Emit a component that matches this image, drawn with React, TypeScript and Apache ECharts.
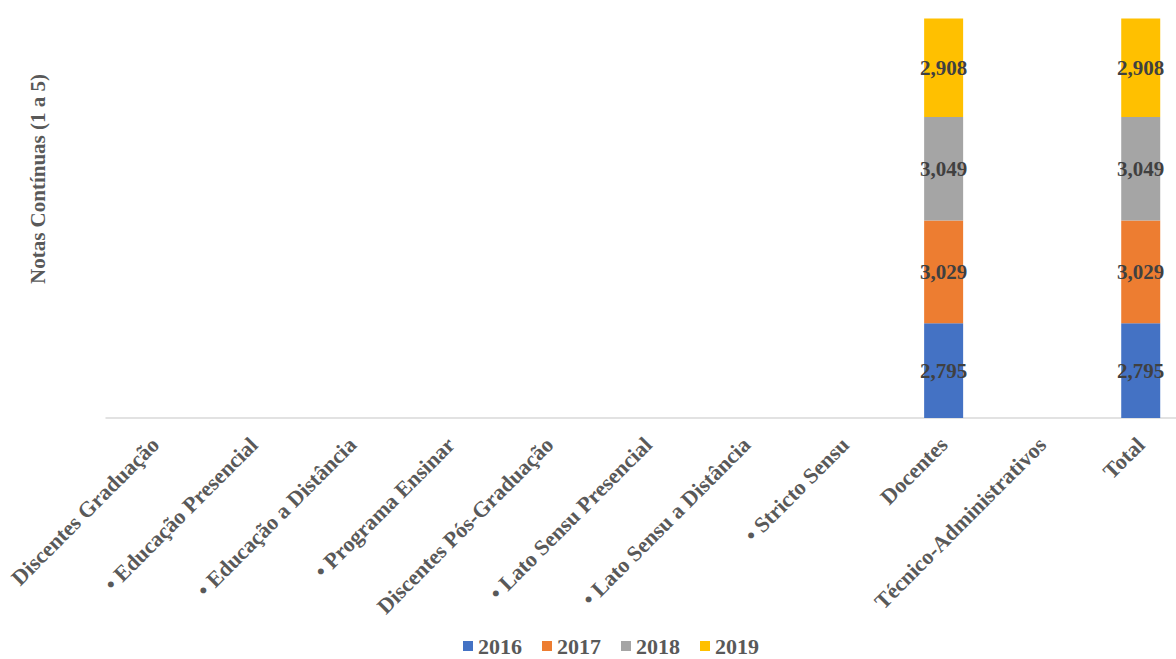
import React, { useEffect, useRef } from "react";
import * as echarts from "echarts";

const categories = [
  "Discentes Graduação",
  "• Educação Presencial",
  "• Educação a Distância",
  "• Programa Ensinar",
  "Discentes Pós-Graduação",
  "• Lato Sensu Presencial",
  "• Lato Sensu a Distância",
  "• Stricto Sensu",
  "Docentes",
  "Técnico-Administrativos",
  "Total",
];

const years = ["2016", "2017", "2018", "2019"];

const values2016 = [null, null, null, null, null, null, null, null, 2.795, null, 2.795];
const values2017 = [null, null, null, null, null, null, null, null, 3.029, null, 3.029];
const values2018 = [null, null, null, null, null, null, null, null, 3.049, null, 3.049];
const values2019 = [null, null, null, null, null, null, null, null, 2.908, null, 2.908];

const colors = ["#4472C4", "#ED7D31", "#A5A5A5", "#FFC000"];

const FONT = "'Liberation Serif', 'Times New Roman', serif";

export default function App() {
  const ref = useRef<HTMLDivElement>(null);

  useEffect(() => {
    if (!ref.current) return;
    const chart = echarts.init(ref.current, null, { renderer: "svg" });
    const seriesData = [values2016, values2017, values2018, values2019];
    chart.setOption({
      animation: false,
      backgroundColor: "#ffffff",
      color: colors,
      textStyle: { fontFamily: FONT },
      grid: { left: 106, right: 0, top: 11, bottom: 241, containLabel: false },
      legend: {
        data: years,
        left: 463,
        top: 635,
        padding: 0,
        itemWidth: 10,
        itemHeight: 10,
        itemGap: 20,
        icon: "rect",
        textStyle: {
          fontFamily: FONT,
          fontSize: 22,
          lineHeight: 18,
          fontWeight: "bold",
          color: "#595959",
        },
      },
      xAxis: {
        type: "category",
        data: categories,
        axisLine: { show: true, lineStyle: { color: "#D9D9D9", width: 1.5 } },
        axisTick: { show: false },
        axisLabel: {
          rotate: 45,
          interval: 0,
          margin: 23,
          fontFamily: FONT,
          fontSize: 22,
          fontWeight: "bold",
          color: "#595959",
        },
      },
      yAxis: {
        type: "value",
        min: 0,
        max: 12,
        axisLine: { show: false },
        axisTick: { show: false },
        axisLabel: { show: false },
        splitLine: { show: false },
      },
      graphic: [
        {
          type: "text",
          x: 38,
          y: 179,
          rotation: Math.PI / 2,
          style: {
            text: "Notas Contínuas (1 a 5)",
            font: `bold 21px ${FONT}`,
            fill: "#595959",
            textAlign: "center",
            textVerticalAlign: "middle",
          },
        },
      ],
      series: years.map((y, i) => ({
        name: y,
        type: "bar",
        stack: "total",
        barWidth: 39,
        data: seriesData[i],
        itemStyle: { color: colors[i] },
        label: {
          show: true,
          position: "inside",
          fontFamily: FONT,
          fontSize: 21,
          fontWeight: "bold",
          color: "#404040",
          formatter: (p: any) =>
            p.value == null ? "" : Number(p.value).toFixed(3).replace(".", ","),
        },
      })),
    });
    return () => chart.dispose();
  }, []);

  return (
    <div
      style={{
        position: "absolute",
        left: 0,
        top: 0,
        width: 1176,
        height: 659,
        overflow: "hidden",
        background: "#ffffff",
      }}
    >
      <div ref={ref} style={{ width: 1190, height: 659 }} />
    </div>
  );
}
